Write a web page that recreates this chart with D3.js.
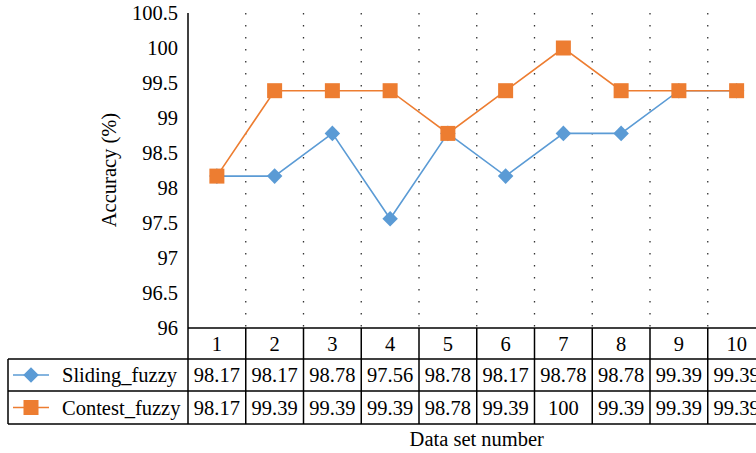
<!DOCTYPE html>
<html><head><meta charset="utf-8">
<script src="https://cdn.jsdelivr.net/npm/d3@7"></script>
<style>
html,body{margin:0;padding:0;background:#fff;overflow:hidden;}
svg{display:block;}
svg text{font-family:"Liberation Serif","Times New Roman",serif !important;}
</style></head>
<body>
<svg id="chart" width="756" height="453"></svg>
<script>
const categories = ["1","2","3","4","5","6","7","8","9","10"];
const slidingFuzzy = [98.17, 98.17, 98.78, 97.56, 98.78, 98.17, 98.78, 98.78, 99.39, 99.39];
const contestFuzzy = [98.17, 99.39, 99.39, 99.39, 98.78, 99.39, 100, 99.39, 99.39, 99.39];
const yTicks = [96, 96.5, 97, 97.5, 98, 98.5, 99, 99.5, 100, 100.5];
const seriesNames = ["Sliding_fuzzy", "Contest_fuzzy"];
const seriesColors = ["#5B9BD5", "#ED7D31"];

(function () {
const svg = d3.select("#chart");
const pLeft = 188, pRight = 765.5, pTop = 13, pBottom = 328;
const rowH = [pBottom, 359, 391, 424];
const tableLeft = 8;
const fs = 20.5;
const FF = "Liberation Serif, Times New Roman, serif";

const x = d3.scaleBand().domain(categories).range([pLeft, pRight]).paddingInner(0).paddingOuter(0);
const y = d3.scaleLinear().domain([96, 100.5]).range([pBottom, pTop]);

const bounds = categories.slice(1).map(c => x(c));
svg.append("g").selectAll("line").data(bounds).join("line")
  .attr("x1", d => d).attr("x2", d => d)
  .attr("y1", pTop).attr("y2", pBottom)
  .attr("stroke", "#333").attr("stroke-width", 1.3)
  .attr("stroke-dasharray", "1.5,10.5");

const yAxis = d3.axisLeft(y).tickValues(yTicks).tickSize(0).tickPadding(10).tickFormat(d3.format(""));
const ga = svg.append("g").attr("transform", `translate(${pLeft},0)`).call(yAxis)
  .attr("font-family", FF).attr("font-size", fs);
ga.select(".domain").remove();
ga.selectAll("text").attr("fill", "#000");

svg.append("text").attr("transform", `translate(116,170) rotate(-90)`)
  .attr("text-anchor", "middle").attr("font-size", fs).attr("font-family", FF).attr("fill", "#000")
  .text("Accuracy (%)");

const lines = svg.append("g").attr("stroke", "#000").attr("stroke-width", 1.5);
lines.append("line").attr("x1", pLeft).attr("x2", pLeft).attr("y1", pTop).attr("y2", rowH[3]);
lines.append("line").attr("x1", pLeft).attr("x2", 760).attr("y1", pBottom).attr("y2", pBottom);
[rowH[1], rowH[2], rowH[3]].forEach(yy => {
  lines.append("line").attr("x1", tableLeft).attr("x2", 760).attr("y1", yy).attr("y2", yy);
});
lines.append("line").attr("x1", tableLeft).attr("x2", tableLeft).attr("y1", rowH[1]).attr("y2", rowH[3]);
bounds.concat([pRight]).forEach(bx => {
  lines.append("line").attr("x1", bx).attr("x2", bx).attr("y1", pBottom).attr("y2", rowH[3]);
});

svg.append("g").attr("font-family", FF).selectAll("text").data(categories).join("text")
  .attr("x", d => x(d) + x.bandwidth() / 2).attr("y", (rowH[0] + rowH[1]) / 2)
  .attr("dy", "0.35em").attr("text-anchor", "middle").attr("font-size", fs)
  .attr("font-family", FF).text(d => d);

const seriesData = [slidingFuzzy, contestFuzzy];
const line = d3.line().x((d, i) => x(categories[i]) + x.bandwidth() / 2).y(d => y(d));

function marker(g, s, cx, cy) {
  if (s === 0) {
    g.append("rect").attr("x", -5.5).attr("y", -5.5).attr("width", 11).attr("height", 11)
      .attr("transform", `translate(${cx},${cy}) rotate(45)`)
      .attr("fill", seriesColors[0]);
  } else {
    g.append("rect").attr("x", cx - 7.5).attr("y", cy - 7.5).attr("width", 15).attr("height", 15)
      .attr("fill", seriesColors[1]);
  }
}

seriesData.forEach((vals, s) => {
  const g = svg.append("g");
  g.append("path").datum(vals).attr("d", line).attr("fill", "none")
    .attr("stroke", seriesColors[s]).attr("stroke-width", 1.6);
  vals.forEach((v, i) => marker(g, s, x(categories[i]) + x.bandwidth() / 2, y(v)));
});

seriesData.forEach((vals, s) => {
  const cy = (rowH[s + 1] + rowH[s + 2]) / 2;
  const g = svg.append("g").attr("font-family", FF);
  g.append("line").attr("x1", 13).attr("x2", 49).attr("y1", cy).attr("y2", cy)
    .attr("stroke", seriesColors[s]).attr("stroke-width", 1.6);
  marker(g, s, 31, cy);
  g.append("text").attr("x", 62).attr("y", cy).attr("dy", "0.35em").attr("font-size", fs)
    .attr("font-family", FF).text(seriesNames[s]);
  g.selectAll("text.v").data(vals).join("text").attr("class", "v")
    .attr("x", (d, i) => x(categories[i]) + x.bandwidth() / 2).attr("y", cy).attr("dy", "0.35em")
    .attr("text-anchor", "middle").attr("font-size", fs).attr("font-family", FF).text(d => d);
});

svg.append("text").attr("x", (pLeft + pRight) / 2).attr("y", 446).attr("text-anchor", "middle")
  .attr("font-size", fs).attr("font-family", FF).text("Data set number");
})();
</script>
</body></html>
